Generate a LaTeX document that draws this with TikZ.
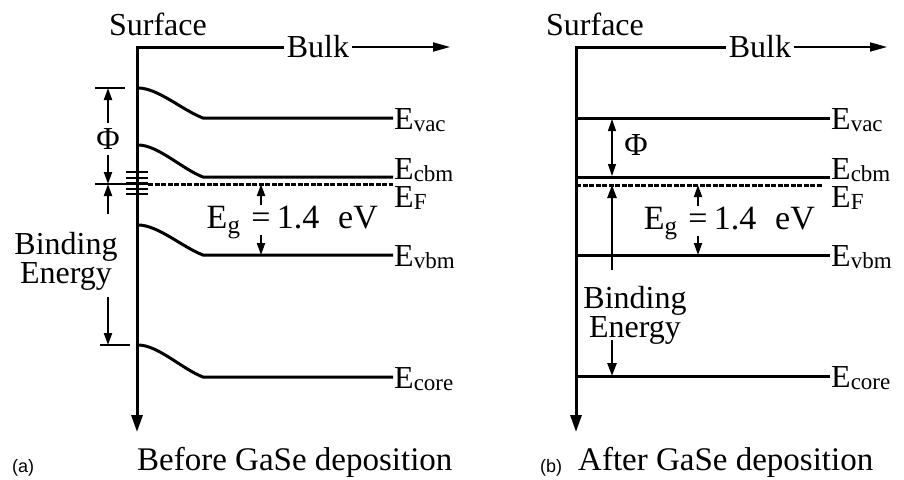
\documentclass[tikz,border=0pt]{standalone}
\usepackage{fontspec}
\setmainfont{Liberation Serif}
\newfontfamily\capsans{Liberation Sans}
\usetikzlibrary{arrows.meta}
\newcommand\lsub[1]{\raisebox{-2.5pt}{\fontsize{23}{23}\selectfont #1}}
\newcommand\gsub[1]{\raisebox{-5pt}{\fontsize{25}{25}\selectfont #1}}
\begin{document}
\begin{tikzpicture}[x=1pt,y=-1pt,
  ttl/.style={font=\fontsize{32}{29}\selectfont, inner sep=0pt},
  eg/.style={font=\fontsize{34}{34}\selectfont, inner sep=0pt},
  lvllbl/.style={font=\fontsize{32}{28}\selectfont, inner sep=0pt, anchor=base west},
  capa/.style={font=\capsans\fontsize{18}{18}\selectfont, inner sep=0pt, anchor=base west},
  capb/.style={font=\fontsize{33}{33}\selectfont, inner sep=0pt, anchor=base west},
  axisln/.style={line width=3pt, -{Triangle[length=17pt,width=11pt]}},
  bulkarr/.style={line width=1.8pt, -{Triangle[length=17pt,width=9pt]}},
  lvl/.style={line width=3pt},
  fermi/.style={line width=3pt, dash pattern=on 5pt off 1.5pt},
  bar/.style={line width=2.5pt},
  dimarr/.style={line width=2pt, -{Triangle[length=12pt,width=8pt]}},
  dimthin/.style={line width=1.2pt, {Triangle[length=12pt,width=8pt]}-{Triangle[length=12pt,width=8pt]}},
  bindarr/.style={line width=2.5pt, -{Triangle[length=13pt,width=9pt]}}
]
\useasboundingbox (0,0) rectangle (904,479);

% ================= panel (a) =================
\node[ttl, anchor=base] (aSurf) at (158,35) {Surface};
\node[ttl, inner xsep=3pt] (aBulk) at (318,47) {Bulk};
\coordinate (aCorner) at (137,47);
\coordinate (aAxisEnd) at (137,432);
\coordinate (aBulkEnd) at (450,47);
\draw[axisln] (aBulk.west) -- (aCorner) -- (aAxisEnd);
\draw[bulkarr] (aBulk.east) -- (aBulkEnd);

% levels
\coordinate (aVacR) at (393,118);
\coordinate (aCbmR) at (393,177);
\coordinate (aFR) at (393,184);
\coordinate (aVbmR) at (393,255);
\coordinate (aCoreR) at (393,377);
\draw[lvl] (138,88) .. controls (158,88) and (182,110) .. (203,118) -- (aVacR);
\draw[lvl] (138,145) .. controls (158,145) and (182,169) .. (203,177) -- (aCbmR);
\draw[fermi] (148,184) -- (aFR);
\draw[lvl] (138,225) .. controls (158,225) and (182,247) .. (203,255) -- (aVbmR);
\draw[lvl] (138,345) .. controls (158,345) and (182,369) .. (203,377) -- (aCoreR);

\node[lvllbl] (aVacL) at (394,129) {E\lsub{vac}};
\node[lvllbl] (aCbmL) at (394,179) {E\lsub{cbm}};
\node[lvllbl] (aFL) at (394,207) {E\lsub{F}};
\node[lvllbl] (aVbmL) at (394,266) {E\lsub{vbm}};
\node[lvllbl] (aCoreL) at (394,388) {E\lsub{core}};

% surface states
\foreach \yy/\ww in {172/2,177.5/2,183.5/3.5,189/2,194/2}
  \draw[line width=\ww pt] (126,\yy) -- (148,\yy);

% work function and binding energy
\coordinate (aPhiTop) at (108,88);
\coordinate (aFBar) at (108,184);
\coordinate (aBindTop) at (108,214);
\coordinate (aBindBot) at (108,297);
\coordinate (aCoreBar) at (108,345);
\draw[bar] (95,88) -- (125,88);
\draw[bar] (95,184) -- (126,184);
\draw[bar] (100,345) -- (130,345);
\node[ttl, inner sep=5pt] (aPhi) at (108,139) {Φ};
\draw[dimarr] (aPhi) -- (aPhiTop);
\draw[dimarr] (aPhi) -- (aFBar);
\draw[dimarr] (aBindTop) -- (aFBar);
\draw[dimarr] (aBindBot) -- (aCoreBar);
\node[ttl, align=center, anchor=north] (aBind) at (66,232) {Binding\\Energy};

% band gap
\node[eg, anchor=base, inner ysep=7pt] (aEq) at (261,228) {=};
\coordinate (aEgTop) at (261,184);
\coordinate (aEgBot) at (261,255);
\draw[dimarr] (aEq) -- (aEgTop);
\draw[dimarr] (aEq) -- (aEgBot);
\node[eg, anchor=base east] (aEg) at ([xshift=-11pt]aEq.base west) {E\gsub{g}};
\node[eg, anchor=base west] (aVal) at ([xshift=6pt]aEq.base east) {1.4\hspace{0.55em}eV};

\node[capa] (aTag) at (12,472) {(a)};
\node[capb] (aCap) at (137,470) {Before GaSe deposition};

% ================= panel (b) =================
\node[ttl, anchor=base] (bSurf) at (595,35) {Surface};
\node[ttl, inner xsep=3pt] (bBulk) at (760,47) {Bulk};
\coordinate (bCorner) at (576,47);
\coordinate (bAxisEnd) at (576,432);
\coordinate (bBulkEnd) at (887,47);
\draw[axisln] (bBulk.west) -- (bCorner) -- (bAxisEnd);
\draw[bulkarr] (bBulk.east) -- (bBulkEnd);

\coordinate (bVacS) at (576,118);
\coordinate (bCbmS) at (576,177);
\coordinate (bFS) at (576,185);
\coordinate (bVbmS) at (576,255);
\coordinate (bCoreS) at (576,376);
\coordinate (bVacR) at (830,118);
\coordinate (bCbmR) at (830,177);
\coordinate (bFR) at (822,185);
\coordinate (bVbmR) at (830,255);
\coordinate (bCoreR) at (830,376);
\draw[lvl] (bVacS) -- (bVacR);
\draw[lvl] (bCbmS) -- (bCbmR);
\draw[fermi] (bFS) -- (bFR);
\draw[lvl] (bVbmS) -- (bVbmR);
\draw[lvl] (bCoreS) -- (bCoreR);

\node[lvllbl] (bVacL) at (831,129) {E\lsub{vac}};
\node[lvllbl] (bCbmL) at (831,179) {E\lsub{cbm}};
\node[lvllbl] (bFL) at (831,207) {E\lsub{F}};
\node[lvllbl] (bVbmL) at (831,266) {E\lsub{vbm}};
\node[lvllbl] (bCoreL) at (831,387) {E\lsub{core}};

% work function
\coordinate (bPhiTop) at (612,119);
\coordinate (bPhiBot) at (612,176);
\draw[dimthin] (bPhiTop) -- (bPhiBot);
\node[ttl] (bPhi) at (636,145) {Φ};

% binding energy
\coordinate (bBindTop) at (612,270);
\coordinate (bFP) at (612,185);
\coordinate (bBindLow) at (612,340);
\coordinate (bCoreP) at (612,376);
\draw[bindarr] (bBindTop) -- (bFP);
\draw[bindarr] (bBindLow) -- (bCoreP);
\node[ttl, align=center, anchor=north] (bBind) at (635,286) {Binding\\Energy};

% band gap
\node[eg, anchor=base, inner ysep=7pt] (bEq) at (698,229) {=};
\coordinate (bEgTop) at (698,185);
\coordinate (bEgBot) at (698,255);
\draw[dimarr] (bEq) -- (bEgTop);
\draw[dimarr] (bEq) -- (bEgBot);
\node[eg, anchor=base east] (bEg) at ([xshift=-11pt]bEq.base west) {E\gsub{g}};
\node[eg, anchor=base west] (bVal) at ([xshift=6pt]bEq.base east) {1.4\hspace{0.55em}eV};

\node[capa] (bTag) at (540,472) {(b)};
\node[capb] (bCap) at (578,470) {After GaSe deposition};
\end{tikzpicture}
\end{document}
